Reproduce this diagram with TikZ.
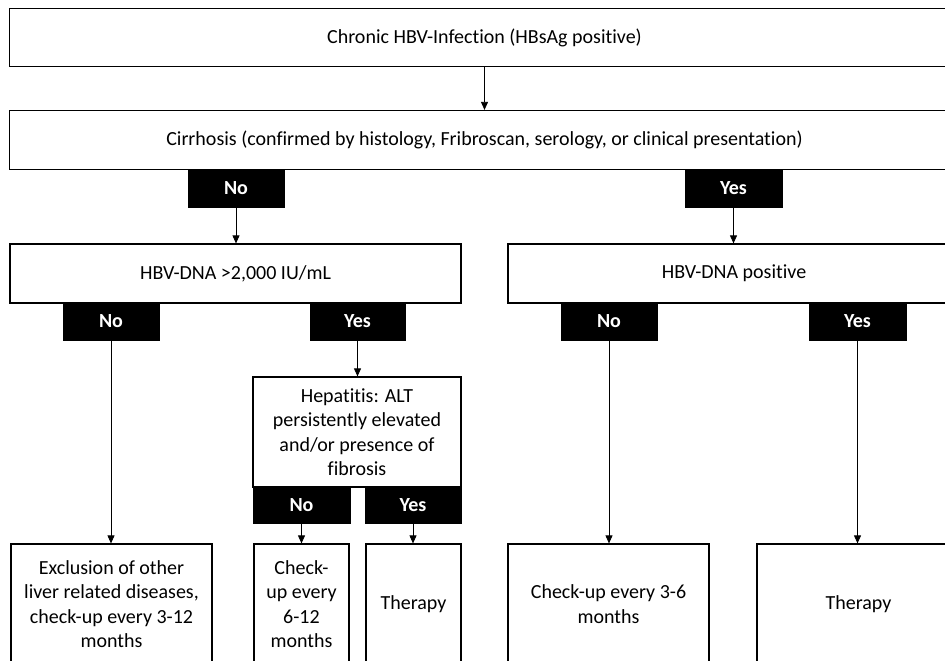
\documentclass[tikz,border=0pt]{standalone}
\usepackage{fontspec}
\setmainfont{Carlito}[Ligatures=NoCommon]
\usetikzlibrary{arrows.meta}
\tikzset{
  box/.style={draw=black, line width=1.2pt, fill=white, inner sep=0pt, align=center,
    font=\fontsize{20}{24.5}\selectfont},
  lab/.style={fill=black, draw=black, line width=0.6pt, inner sep=0pt, text=white,
    minimum height=37, font=\fontsize{20}{24.5}\selectfont\bfseries},
  conn/.style={line width=0.8pt, -{Triangle[length=8pt,width=7pt]}},
}
\begin{document}
\begin{tikzpicture}[x=1pt,y=-1pt]
\path[use as bounding box, fill=white] (0,0) rectangle (945,661);
\clip (0,0) rectangle (945,661);
% level boxes
\node[box, minimum width=950, minimum height=58] (top) at (484.5,37.5) {Chronic HBV-Infection (HBsAg positive)};
\node[box, minimum width=950, minimum height=59] (cirr) at (484.5,140) {Cirrhosis (confirmed by histology, Fribroscan, serology, or clinical presentation)};
\node[lab, minimum width=96] (noA) at (236,188.5) {No};
\node[lab, minimum width=97] (yesA) at (733.5,188.5) {Yes};
\node[box, minimum width=451, minimum height=59] (dnaL) at (235.5,273.5) {HBV-DNA >2,000 IU/mL};
\node[box, minimum width=452, minimum height=59] (dnaR) at (734,273.5) {HBV-DNA positive};
\node[lab, minimum width=96] (noB) at (111,321.5) {No};
\node[lab, minimum width=95] (yesB) at (357.5,321.5) {Yes};
\node[lab, minimum width=96] (noC) at (609,321.5) {No};
\node[lab, minimum width=97] (yesC) at (857.5,321.5) {Yes};
\node[box, minimum width=208, minimum height=110] (hep) at (357,432) {Hepatitis: ALT\\persistently elevated\\and/or presence of\\fibrosis};
\node[lab, minimum width=97, minimum height=36] (noD) at (301.5,505) {No};
\node[lab, minimum width=96, minimum height=36] (yesD) at (413,505) {Yes};
\node[box, minimum width=201, minimum height=120] (exc) at (111.5,604) {Exclusion of other\\liver related diseases,\\check-up every 3-12\\months};
\node[box, minimum width=95, minimum height=120] (chk1) at (301.5,604) {Check-\\up every\\6-12\\months};
\node[box, minimum width=95, minimum height=120] (ther1) at (413.5,604) {Therapy};
\node[box, minimum width=201, minimum height=120] (chk2) at (608.5,604) {Check-up every 3-6\\months};
\node[box, minimum width=203, minimum height=120] (ther2) at (858.5,604) {Therapy};
% connectors
\draw[conn] (top.south) -- (top.south |- cirr.north);
\draw[conn] (noA.south) -- (noA.south |- dnaL.north);
\draw[conn] (yesA.south) -- (yesA.south |- dnaR.north);
\draw[conn] (noB.south) -- (noB.south |- exc.north);
\draw[conn] (yesB.south) -- (yesB.south |- hep.north);
\draw[conn] (noD.south) -- (noD.south |- chk1.north);
\draw[conn] (yesD.south) -- (yesD.south |- ther1.north);
\draw[conn] (noC.south) -- (noC.south |- chk2.north);
\draw[conn] (yesC.south) -- (yesC.south |- ther2.north);
\end{tikzpicture}
\end{document}
